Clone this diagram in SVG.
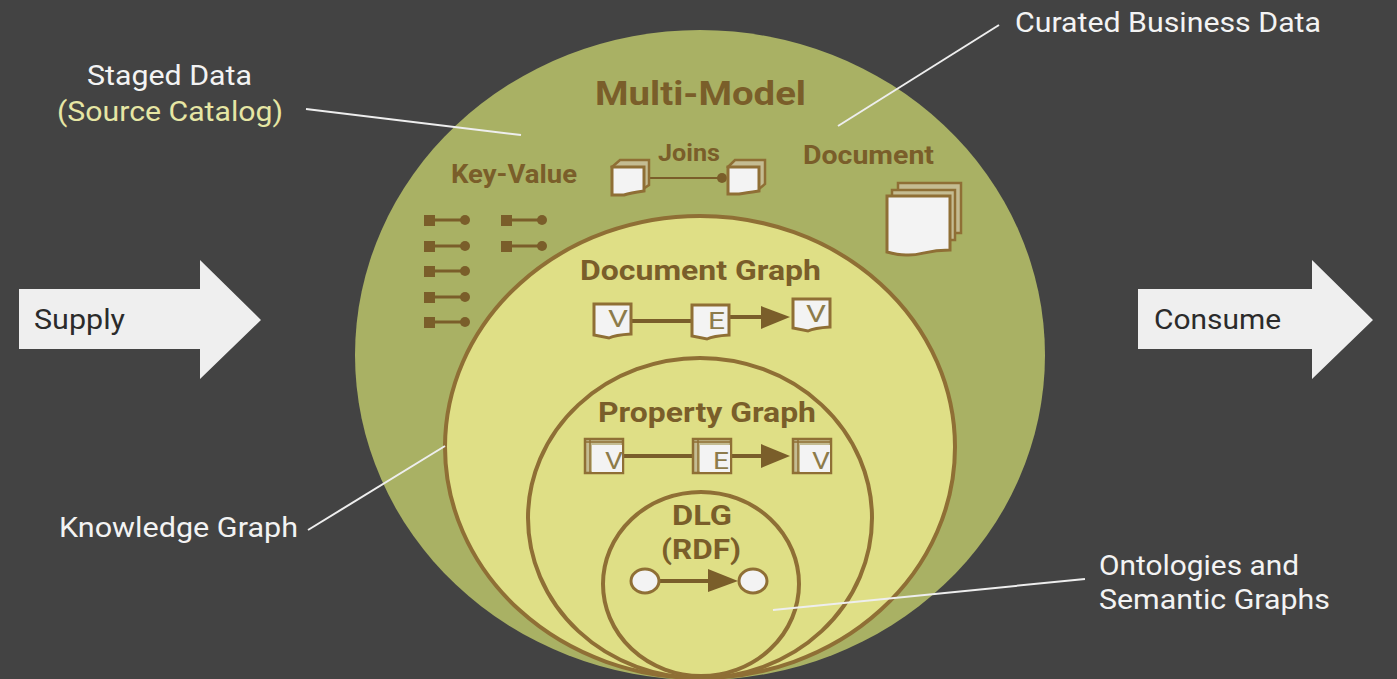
<svg xmlns="http://www.w3.org/2000/svg" width="1397" height="679" viewBox="0 0 1397 679">
<style>
text{font-family:Roboto,"Liberation Sans",sans-serif}
.w{fill:#f3f3f3;font-size:27px}
.s{fill:#2b2b2b;font-size:27px}
.b{fill:#7a5e2a;font-weight:700}
.ring{fill:#dfdf86;stroke:#8f6f35;stroke-width:4}
.lead{stroke:#eeeeee;stroke-width:2;fill:none}
.doc{fill:#f3f3f3;stroke:#8f6f35;stroke-width:3}
.back{fill:#c4bc92;stroke:#8f6f35;stroke-width:2.5}
.l{fill:#8d7b4a;font-size:24px;font-weight:400}
.edge{stroke:#7a5e2a;stroke-width:4;fill:none}
.kv{stroke:#7a5e2a;stroke-width:3}
.dot{fill:#7a5e2a}
.arrow{fill:#efefef}
</style>
<rect width="1397" height="679" fill="#434343"/>
<g id="multi-model">
<ellipse cx="700" cy="355" rx="345" ry="325" fill="#a9b164"/>
<text class="b" x="595" y="105" font-size="34" textLength="211" lengthAdjust="spacingAndGlyphs">Multi-Model</text>
</g>
<g id="key-value">
<text class="b" x="451" y="183" font-size="25" textLength="126" lengthAdjust="spacingAndGlyphs">Key-Value</text>
<g id="kv-pairs">
<path class="kv" d="M430 220H465M430 246H465M430 271H465M430 297H465M430 322H465M506 220H542M506 246H542"/>
<path class="dot" d="M424 215h11v11h-11zM424 241h11v11h-11zM424 266h11v11h-11zM424 292h11v11h-11zM424 317h11v11h-11zM501 215h11v11h-11zM501 241h11v11h-11z"/>
<circle class="dot" cx="465" cy="220" r="5"/><circle class="dot" cx="465" cy="246" r="5"/><circle class="dot" cx="465" cy="271" r="5"/><circle class="dot" cx="465" cy="297" r="5"/><circle class="dot" cx="465" cy="322" r="5"/><circle class="dot" cx="542" cy="220" r="5"/><circle class="dot" cx="542" cy="246" r="5"/>
</g>
</g>
<g id="joins">
<text class="b" x="658" y="161" font-size="23" textLength="62" lengthAdjust="spacingAndGlyphs">Joins</text>
<path d="M650 178H722" stroke="#7a5e2a" stroke-width="2"/>
<circle class="dot" cx="722" cy="178" r="5"/>
<path class="back" d="M612 167l8-7h29v25l-6 4z"/>
<path class="doc" stroke-width="2.5" d="M612 167h32v24q-14 2-20 4h-12z"/>
<path class="back" d="M728 167l7-7h30v24l-6 5z"/>
<path class="doc" stroke-width="2.5" d="M728 167h31v24q-14 2-20 3h-11z"/>
</g>
<g id="document">
<text class="b" x="803" y="164" font-size="25" textLength="131" lengthAdjust="spacingAndGlyphs">Document</text>
<path class="back" d="M898 183h63v50h-63z"/>
<path class="back" d="M892 190h63v50h-63z"/>
<path class="doc" d="M887 196h63v54c-26 0-28 6-44 5-7 0-12-1-19-3z"/>
</g>
<g id="knowledge-graph">
<ellipse class="ring" cx="700" cy="447" rx="255" ry="231"/>
<text class="b" x="580" y="280" font-size="27" textLength="241" lengthAdjust="spacingAndGlyphs">Document Graph</text>
<path class="edge" d="M632 321H692M730 317H765"/>
<path class="dot" d="M761 306L790 317L761 329z"/>
<path class="doc" d="M594 304h37v30q-16 1-22 4l-15-3z"/>
<text class="l" x="608" y="327" textLength="20" lengthAdjust="spacingAndGlyphs">V</text>
<path class="doc" d="M692 305h37v30q-16 1-22 4l-15-3z"/>
<text class="l" x="708" y="329" textLength="17" lengthAdjust="spacingAndGlyphs">E</text>
<path class="doc" d="M793 299h37v28q-16 1-22 4l-15-3z"/>
<text class="l" x="806" y="322" textLength="20" lengthAdjust="spacingAndGlyphs">V</text>
</g>
<g id="property-graph">
<ellipse class="ring" cx="700" cy="518" rx="172" ry="160"/>
<text class="b" x="598" y="422" font-size="27" textLength="218" lengthAdjust="spacingAndGlyphs">Property Graph</text>
<path class="edge" d="M623 456H693M731 456H765"/>
<path class="dot" d="M761 444L790 456L761 468z"/>
<g id="pv1"><rect class="back" x="585" y="439" width="38" height="34"/><path d="M590 439V473M586 442H622" stroke="#8f6f35" stroke-width="1.5" fill="none"/><rect x="592" y="445" width="30" height="27" fill="#f3f3f3"/>
<text class="l" x="605" y="469" textLength="18" lengthAdjust="spacingAndGlyphs">V</text></g>
<g id="pe"><rect class="back" x="693" y="439" width="38" height="34"/><path d="M698 439V473M694 442H730" stroke="#8f6f35" stroke-width="1.5" fill="none"/><rect x="700" y="445" width="30" height="27" fill="#f3f3f3"/>
<text class="l" x="713" y="469" textLength="16" lengthAdjust="spacingAndGlyphs">E</text></g>
<g id="pv2"><rect class="back" x="793" y="439" width="38" height="34"/><path d="M798 439V473M794 442H830" stroke="#8f6f35" stroke-width="1.5" fill="none"/><rect x="800" y="445" width="30" height="27" fill="#f3f3f3"/>
<text class="l" x="812" y="469" textLength="18" lengthAdjust="spacingAndGlyphs">V</text></g>
</g>
<g id="dlg">
<ellipse class="ring" cx="701" cy="584" rx="98" ry="92"/>
<text class="b" x="672" y="525" font-size="27" textLength="60" lengthAdjust="spacingAndGlyphs">DLG</text>
<text class="b" x="661" y="559" font-size="27" textLength="80" lengthAdjust="spacingAndGlyphs">(RDF)</text>
<path class="edge" d="M659 581H712"/>
<path class="dot" d="M708 569L738 581L708 592z"/>
<ellipse class="doc" cx="645" cy="581" rx="14" ry="12"/>
<ellipse class="doc" cx="753" cy="581" rx="14" ry="12"/>
</g>
<g id="connectors">
<path class="lead" d="M306 109L521 135"/>
<path class="lead" d="M999 25L838 126"/>
<path class="lead" d="M308 530L445 446"/>
<path class="lead" d="M1085 579L773 610"/>
</g>
<g id="supply">
<path class="arrow" d="M19 289H200V260L261 320L200 379V349H19z"/>
<text class="s" x="34" y="329" textLength="91" lengthAdjust="spacingAndGlyphs">Supply</text>
</g>
<g id="consume">
<path class="arrow" d="M1138 289H1312V260L1373 320L1312 379V349H1138z"/>
<text class="s" x="1154" y="329" textLength="127" lengthAdjust="spacingAndGlyphs">Consume</text>
</g>
<g id="staged-data">
<text class="w" x="87" y="85" textLength="165" lengthAdjust="spacingAndGlyphs">Staged Data</text>
<text class="w" x="57" y="121" textLength="226" lengthAdjust="spacingAndGlyphs" style="fill:#e6e6a4">(Source Catalog)</text>
</g>
<g id="curated"><text class="w" x="1015" y="32" textLength="306" lengthAdjust="spacingAndGlyphs">Curated Business Data</text></g>
<g id="kg-label"><text class="w" x="59" y="537" textLength="239" lengthAdjust="spacingAndGlyphs">Knowledge Graph</text></g>
<g id="ontologies">
<text class="w" x="1099" y="575" textLength="200" lengthAdjust="spacingAndGlyphs">Ontologies and</text>
<text class="w" x="1099" y="609" textLength="231" lengthAdjust="spacingAndGlyphs">Semantic Graphs</text>
</g>
</svg>
